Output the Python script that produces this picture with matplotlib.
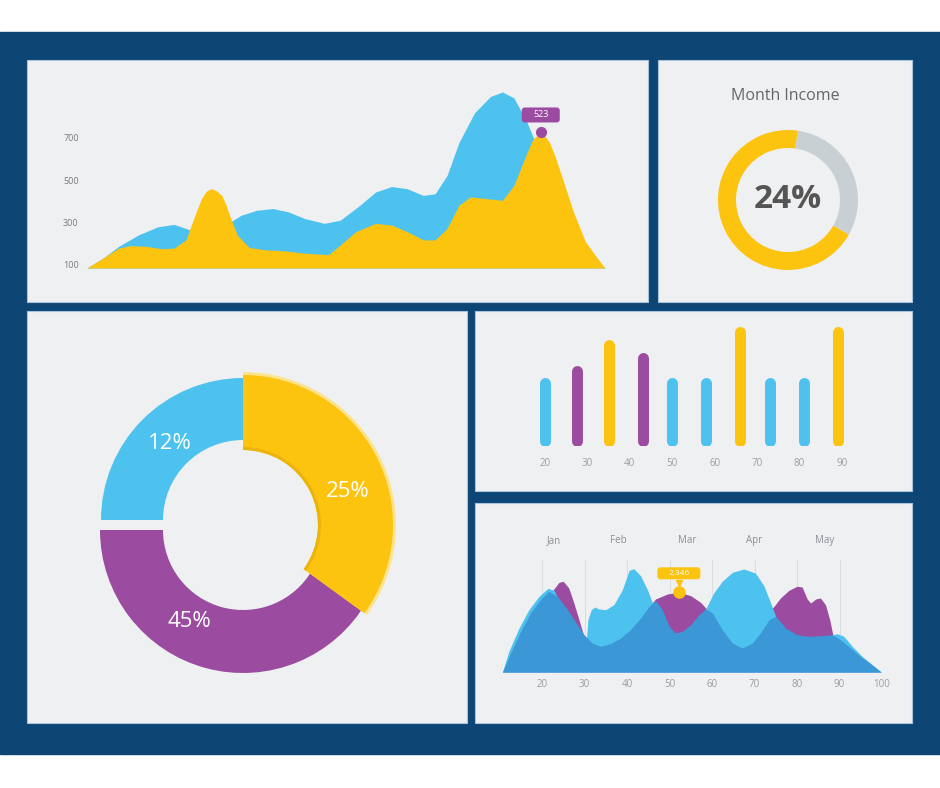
import numpy as np
import matplotlib
matplotlib.use("Agg")
import matplotlib.pyplot as plt
from matplotlib.patches import Rectangle, Wedge, FancyBboxPatch
from matplotlib.transforms import IdentityTransform

plt.rcParams['font.family'] = ['Open Sans', 'DejaVu Sans']

W, H = 940, 788
navy = "#0d4674"
panel_c = "#eff0f2"
yellow = "#fcc30f"
blue = "#4dc2ee"
dark_blue = "#3b97d6"
purple = "#9b4ca0"
grey_ring = "#c9d0d3"

# top-left area chart
tl_yellow_x = [0, 3.1, 6.1, 8.4, 11.5, 14.5, 16.8, 19.1, 20.6, 21.4, 22.1, 23.0, 24.0, 25.0, 26.0, 26.8,
               27.5, 29.0, 31.3, 34.4, 38.2, 42.0, 46.6, 48.9, 51.9, 55.7, 58.8, 61.8, 64.9, 67.2,
               69.5, 71.8, 74.0, 77.1, 80.2, 82.4, 84.7, 86.0, 87.4, 88.3, 89.3, 90.4, 91.6, 93.9,
               96.2, 98.5, 100]
tl_yellow = [85, 132, 179, 191, 187, 176, 179, 218, 319, 370, 413, 448, 460, 450, 428, 385,
             335, 241, 182, 171, 166, 155, 148, 194, 257, 296, 288, 257, 218, 218,
             272, 382, 421, 413, 405, 475, 616, 690, 725, 712, 678, 610, 522, 350,
             210, 132, 85]
tl_blue_x = [0, 3.1, 6.1, 9.9, 13.7, 16.8, 19.1, 20.6, 23.7, 26.7, 29.8, 32.8, 35.9, 38.9, 42.0,
             45.8, 48.9, 52.7, 55.7, 58.8, 61.8, 64.9, 67.2, 69.5, 71.8, 74.8, 77.9, 80.2, 82.4,
             84.7, 86.3, 87.8, 91.6, 95.4, 100]
tl_blue = [85, 132, 187, 241, 280, 291, 272, 257, 249, 288, 335, 358, 366, 350, 319,
           296, 311, 382, 444, 470, 460, 428, 436, 522, 678, 818, 896, 917, 889,
           787, 694, 600, 366, 179, 85]
tl_ticks = [100, 300, 500, 700]
tl_tip_x, tl_tip_y, tl_tip_label = 87.6, 728, "523"

# month income ring
income_label = "24%"
income_parts = [0.31, 0.69]

# big donut
donut_labels = ["12%", "25%", "45%"]
donut_degrees = [90, 126, 144]
donut_colors = [blue, yellow, purple]

# bar chart
bar_x = [20, 27.5, 35, 43, 50, 58, 66, 73, 81, 89]
bar_h = [53, 64, 88, 76, 53, 53, 100, 53, 53, 100]
bar_colors = [blue, purple, yellow, purple, blue, blue, yellow, blue, blue, yellow]
bar_ticks = [20, 30, 40, 50, 60, 70, 80, 90]

# bottom-right area chart
br_dark_x = [10.7, 12.6, 15.0, 17.3, 19.7, 21.6, 23.6, 26.0, 28.3, 29.9, 31.8, 33.8, 36.1, 38.5, 40.8,
             43.2, 45.2, 46.7, 48.3, 49.9, 51.4, 53.0, 55.0, 56.9, 58.5, 60.1, 62.4, 64.8, 67.1,
             69.5, 71.4, 73.4, 75.0, 77.3, 80.0, 82.4, 85.5, 88.3, 90.2, 92.6, 94.9, 97.3, 99.8]
br_dark = [0, 19, 40.7, 59, 73, 80.7, 75.7, 62.3, 47.3, 37.3, 29, 25.7, 28.3, 34, 42.3,
           54, 65.7, 71.7, 62.3, 45.7, 39, 40.7, 47.3, 57.3, 63, 59, 42.3, 29, 24,
           29, 39, 52.3, 55.7, 44, 37.3, 35.7, 36.3, 37.3, 32.3, 24, 15.7, 8.3, 0]
br_light_x = [10.7, 12.2, 14.6, 16.9, 19.3, 21.4, 22.8, 24.4, 26.7, 28.7, 30.3, 30.8, 31.6, 32.4,
              33.4, 35.0, 36.9, 38.9, 40.5, 41.6, 43.2, 44.8, 46.3, 47.9, 51.0, 54.2, 56.5, 58.1,
              58.9, 60.4, 62.4, 64.8, 67.5, 70.2, 72.2, 73.8, 75.3, 77.7, 80.8, 85.5, 88.3, 89.5,
              91.0, 93.0, 95.3, 97.7, 99.8]
br_light = [0, 20.7, 44, 62.3, 75.7, 83.7, 81.7, 69, 42.3, 25.7, 24, 52.3, 62.3, 65,
            63, 62.3, 67.3, 82.3, 101.7, 103.3, 96.3, 82.3, 65.7, 45.7, 32.3, 29, 40.7, 59,
            66.3, 79, 90.7, 99.7, 103, 99, 86.3, 69, 52.3, 32.3, 25.7, 32.3, 37.3, 38.3,
            35.7, 25.7, 15.7, 7.3, 0]
br_purple_x = [10.7, 14.2, 18.1, 21.2, 22.8, 24.0, 25.0, 26.3, 27.5, 28.7, 29.5, 30.7, 32.2, 36.9,
               40.8, 44.0, 45.6, 46.7, 49.5, 52.2, 55.0, 57.3, 58.9, 60.4, 63.6, 66.7, 69.9, 71.4,
               73.0, 74.6, 76.1, 78.1, 80.0, 81.2, 82.4, 83.2, 84.4, 85.5, 86.7, 87.7, 88.5, 90.2,
               94.2, 99.8]
br_purple = [0, 25.7, 52.3, 72.3, 83, 89.7, 90.7, 84, 69, 52.3, 40.7, 25.7, 22.3, 25.7,
             39, 59, 67.3, 73, 78, 79.7, 76.3, 69.7, 62.3, 52.3, 32.3, 22.3, 32.3, 45.7,
             59, 65.7, 74, 81.7, 85.7, 85, 73, 69, 73, 74, 67.3, 52.3, 35.7, 22.3,
             9, 0]
br_ticks = [20, 30, 40, 50, 60, 70, 80, 90, 100]
br_months = ["Jan", "Feb", "Mar", "Apr", "May"]
br_month_x = [22.8, 37.9, 54.1, 69.9, 86.6]
br_tip_x, br_tip_y, br_tip_label = 52.2, 79.7, "2,346"


def box(x0, y0, x1, y1):
    return [x0 / W, 1 - y1 / H, (x1 - x0) / W, (y1 - y0) / H]


def tooltip(ax, x, y, label, color, w, h, lift, fs):
    # rounded label box drawn in pixels above a data point
    px, py = ax.transData.transform((x, y))
    cy = py + lift
    fig.add_artist(FancyBboxPatch((px - w / 2, cy - h / 2), w, h,
                                  boxstyle="round,pad=0,rounding_size=3",
                                  fc=color, ec="none", transform=IdentityTransform(), zorder=5))
    fig.text(px / W, cy / H, label, ha="center", va="center", fontsize=fs, color="white",
             zorder=6)


fig = plt.figure(figsize=(W / 100, H / 100), dpi=100)
fig.patch.set_facecolor("white")
fig.add_artist(Rectangle((0, 1 - 754 / H), 1, (754 - 32) / H, transform=fig.transFigure,
                         color=navy, zorder=-3))
for p in [(27, 60, 648, 302), (658, 60, 912, 302), (27, 311, 467, 723),
          (475, 311, 912, 491), (475, 503, 912, 723)]:
    b = box(*p)
    fig.add_artist(Rectangle((b[0], b[1]), b[2], b[3], transform=fig.transFigure,
                             facecolor=panel_c, edgecolor="#a9c3da", lw=0.8, zorder=-2))

# --- top-left area chart
ax = fig.add_axes(box(87, 85, 605, 268))
ax.set_facecolor("none")
ax.fill_between(tl_blue_x, 85, tl_blue, color=blue, lw=0)
ax.fill_between(tl_yellow_x, 85, tl_yellow, color=yellow, lw=0)
ax.set_xlim(0, 100)
ax.set_ylim(85, 950)
ax.set_yticks(tl_ticks)
ax.set_yticklabels([str(t) for t in tl_ticks])
ax.tick_params(axis="y", length=0, pad=6, labelsize=6.5, labelcolor="#7a7a7a")
ax.set_xticks([])
for s in ax.spines.values():
    s.set_visible(False)
ax.plot(tl_tip_x, tl_tip_y, "o", color=purple, ms=7)
tooltip(ax, tl_tip_x, tl_tip_y, tl_tip_label, purple, 38, 15, 17, 6.5)

# --- month income
ax = fig.add_axes(box(708, 120, 868, 280))
ax.pie(income_parts, colors=[grey_ring, yellow], startangle=82, counterclock=False,
       radius=70, wedgeprops=dict(width=18, lw=0))
ax.set_xlim(-80, 80)
ax.set_ylim(-80, 80)
ax.set_aspect("equal")
ax.axis("off")
ax.text(0, 0, income_label, ha="center", va="center", fontsize=24, fontweight="bold",
        color="#555555")
fig.text(785 / W, 1 - 96 / H, "Month Income", ha="center", va="center", fontsize=11.5,
         color="#666666")

# --- big donut
ax = fig.add_axes(box(27, 311, 467, 723))
ax.set_xlim(0, 440)
ax.set_ylim(0, 412)
ax.axis("off")
cx, cy = 216, 198
radii = [(142, 80), (150, 75), (143, 80)]
shifts = [5, 0, -5]
label_ang = [132, 18, 241]
start = 180
for deg, col, (ro, ri), sh, lab, la in zip(donut_degrees, donut_colors, radii, shifts,
                                          donut_labels, label_ang):
    t2 = start
    t1 = start - deg
    start = t1
    if col == yellow:
        ax.add_patch(Wedge((cx, cy + sh), ro + 3, t1, t2, width=ro - ri + 3, color="#fde38c",
                           lw=0, zorder=3))
        ax.add_patch(Wedge((cx, cy + sh), ro, t1, t2, width=ro - ri, color=col, lw=0, zorder=3))
        ax.add_patch(Wedge((cx, cy + sh), ri + 3, t1, t2, width=3, color="#eab40c", lw=0,
                           zorder=3))
    elif col == purple:
        # runs a little under the yellow slice so no gap shows at the join
        ax.add_patch(Wedge((cx, cy + sh), ro, t1, t2 + 6, width=ro - ri, color=col, lw=0,
                           zorder=2))
    else:
        ax.add_patch(Wedge((cx, cy + sh), ro, t1, t2, width=ro - ri, color=col, lw=0, zorder=2))
    a = np.deg2rad(la)
    ax.text(cx + 110 * np.cos(a), cy + 110 * np.sin(a), lab, ha="center", va="center",
            fontsize=16, color="white", zorder=4)

# --- bar chart
ax = fig.add_axes(box(502.6, 327, 884.2, 446))
ax.set_facecolor("none")
lc = ax.vlines(bar_x, 0, bar_h, colors=bar_colors, lw=7.9)
lc.set_capstyle("round")
ax.set_xlim(10, 100)
ax.set_ylim(-5, 105)
ax.set_xticks(bar_ticks)
ax.set_xticklabels([str(t) for t in bar_ticks])
ax.tick_params(axis="x", length=0, pad=8.5, labelsize=7, labelcolor="#9a9fa5")
ax.set_yticks([])
for s in ax.spines.values():
    s.set_visible(False)

# --- bottom-right area chart
ax = fig.add_axes(box(499.5, 560, 882, 672))
ax.set_facecolor("none")
ax.fill_between(br_purple_x, 0, br_purple, color=purple, lw=0, zorder=2)
ax.fill_between(br_light_x, 0, br_light, color=blue, lw=0, zorder=3)
ax.fill_between(br_dark_x, 0, br_dark, color=dark_blue, lw=0, zorder=4)
ax.set_xlim(10, 100)
ax.set_ylim(0, 112)
ax.set_xticks(br_ticks)
ax.set_xticklabels([str(t) for t in br_ticks])
ax.tick_params(axis="x", length=0, pad=5, labelsize=7, labelcolor="#9a9fa5")
ax.set_yticks([])
ax.xaxis.grid(True, color="#d9dde2", lw=0.7, zorder=0)
ax.set_axisbelow(True)
for s in ax.spines.values():
    s.set_visible(False)
for m, mx in zip(br_months, br_month_x):
    ax.text(mx, 1.17, m, transform=ax.get_xaxis_transform(), ha="center", va="center",
            fontsize=7, color="#8a8f95")
ax.plot(br_tip_x, br_tip_y, "o", color=yellow, ms=8, zorder=6)
ax.plot(br_tip_x, br_tip_y + 9, "v", color=yellow, ms=4, zorder=6)
tooltip(ax, br_tip_x, br_tip_y, br_tip_label, yellow, 43, 12, 19, 6)

fig.savefig("out.png", dpi=100, facecolor=fig.get_facecolor())
